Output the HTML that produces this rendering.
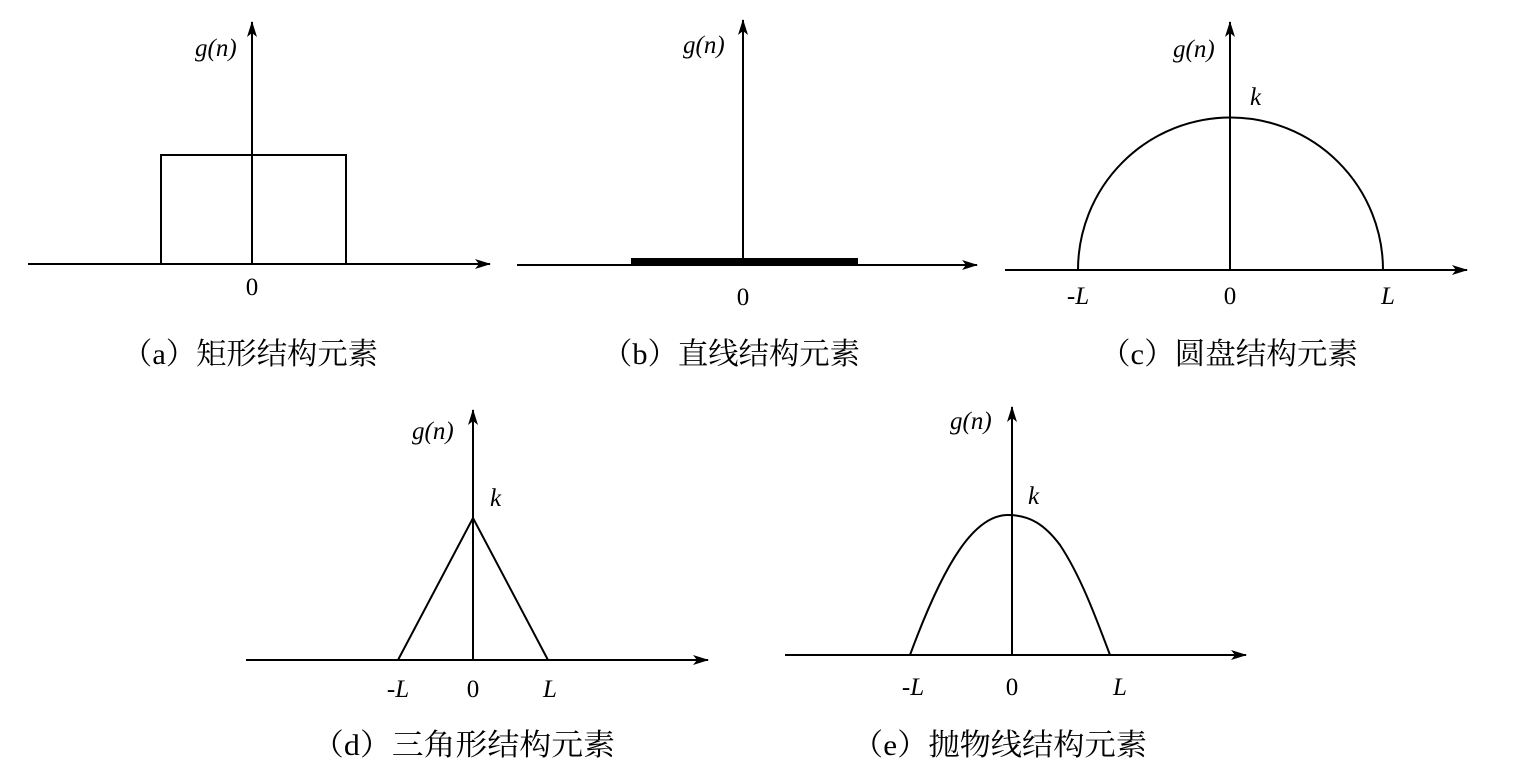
<!DOCTYPE html>
<html><head><meta charset="utf-8"><style>
html,body{margin:0;padding:0;background:#fff;}
svg{display:block;}
text{font-family:"Liberation Serif","Noto Serif CJK SC",serif;fill:#000;}
.it{font-style:italic;font-size:25px;}
.n{font-size:25px;}
.cap{font-size:30px;}
</style></head><body>
<svg width="1514" height="771" viewBox="0 0 1514 771" xmlns="http://www.w3.org/2000/svg">
<defs>
<marker id="ar" markerWidth="16" markerHeight="10" refX="15" refY="5" orient="auto" markerUnits="userSpaceOnUse">
<path d="M0,0 L16,5 L0,10 L4,5 Z" fill="#000"/></marker>
</defs>
<g stroke="#000" stroke-width="2" fill="none">
<line x1="28" y1="264" x2="490" y2="264" marker-end="url(#ar)"/>
<line x1="252" y1="264" x2="252" y2="22" marker-end="url(#ar)"/>
<path d="M161,264 V155 H346 V264"/>
<line x1="517" y1="265" x2="977" y2="265" marker-end="url(#ar)"/>
<line x1="743" y1="265" x2="743" y2="20" marker-end="url(#ar)"/>
<line x1="631" y1="262" x2="858" y2="262" stroke-width="8"/>
<line x1="1005" y1="270" x2="1467" y2="270" marker-end="url(#ar)"/>
<line x1="1230" y1="270" x2="1230" y2="22" marker-end="url(#ar)"/>
<path d="M1078,270 A152,152 0 0 1 1383,270"/>
<line x1="246" y1="660" x2="708" y2="660" marker-end="url(#ar)"/>
<line x1="473" y1="660" x2="473" y2="410" marker-end="url(#ar)"/>
<path d="M398,660 L473,518 L548,660"/>
<line x1="785" y1="655" x2="1246" y2="655" marker-end="url(#ar)"/>
<line x1="1012" y1="655" x2="1012" y2="407" marker-end="url(#ar)"/>
<path d="M910,655 C945,560 975,515 1008,515 C1030,515 1045,525 1060,545 C1080,575 1095,615 1110,655"/>
</g>
<text class="it" x="195" y="56">g(n)</text>
<text class="n" x="252" y="295" text-anchor="middle">0</text>
<text class="cap" x="122" y="364" textLength="256" lengthAdjust="spacingAndGlyphs">（a）矩形结构元素</text>

<text class="it" x="683" y="53">g(n)</text>
<text class="n" x="743" y="305" text-anchor="middle">0</text>
<text class="cap" x="602" y="364" textLength="258" lengthAdjust="spacingAndGlyphs">（b）直线结构元素</text>

<text class="it" x="1173" y="57">g(n)</text>
<text class="it" x="1250" y="105">k</text>
<text class="it" x="1078" y="304" text-anchor="middle">-L</text>
<text class="n" x="1230" y="304" text-anchor="middle">0</text>
<text class="it" x="1388" y="304" text-anchor="middle">L</text>
<text class="cap" x="1100" y="364" textLength="258" lengthAdjust="spacingAndGlyphs">（c）圆盘结构元素</text>

<text class="it" x="412" y="439">g(n)</text>
<text class="it" x="490" y="506">k</text>
<text class="it" x="398" y="697" text-anchor="middle">-L</text>
<text class="n" x="473" y="697" text-anchor="middle">0</text>
<text class="it" x="550" y="697" text-anchor="middle">L</text>
<text class="cap" x="312" y="755" textLength="303" lengthAdjust="spacingAndGlyphs">（d）三角形结构元素</text>

<text class="it" x="950" y="429">g(n)</text>
<text class="it" x="1028" y="504">k</text>
<text class="it" x="913" y="695" text-anchor="middle">-L</text>
<text class="n" x="1012" y="695" text-anchor="middle">0</text>
<text class="it" x="1120" y="695" text-anchor="middle">L</text>
<text class="cap" x="852" y="755" textLength="295" lengthAdjust="spacingAndGlyphs">（e）抛物线结构元素</text>
</svg>
</body></html>
